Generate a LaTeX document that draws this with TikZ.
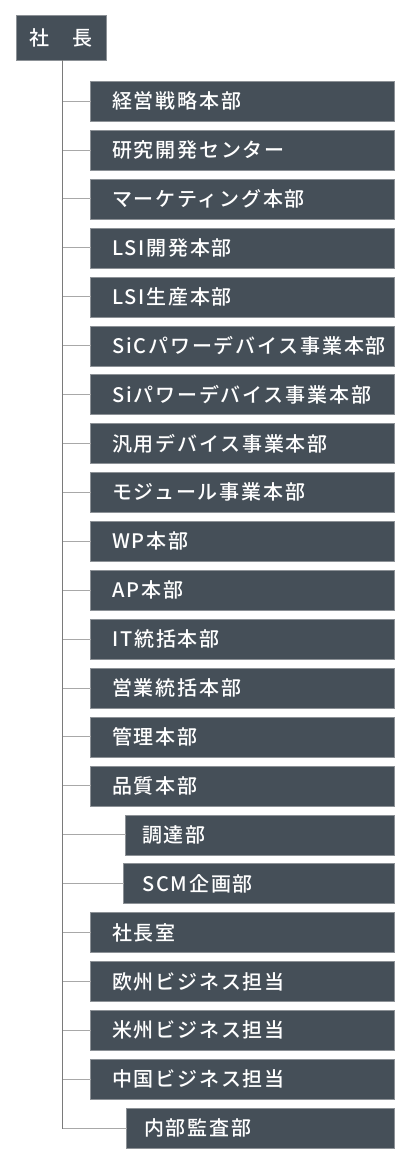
\documentclass[tikz,border=0pt]{standalone}
\usepackage{fontspec}
\usepackage{tikz}
\usetikzlibrary{positioning}
\newfontfamily\jpfont[LetterSpace=9]{Noto Sans CJK JP Medium}
\definecolor{boxfill}{HTML}{454F58}
\definecolor{boxedge}{HTML}{8C9196}
\definecolor{trunkgray}{HTML}{7A7A7A}
\definecolor{branchgray}{HTML}{A8A8A8}

\tikzset{
  head/.style={draw=boxedge,fill=boxfill,text=white,font=\jpfont\fontsize{20}{20}\selectfont,
    minimum width=90pt,minimum height=45pt,inner sep=0pt,anchor=north west},
  unit/.style={draw=boxedge,fill=boxfill,text=white,font=\jpfont\fontsize{20}{20}\selectfont,
    minimum height=40pt,inner ysep=0pt,anchor=north west,align=left},
  branch/.style={draw=branchgray,line width=1pt},
}

\begin{document}
\begin{tikzpicture}[x=1pt,y=-1pt,line cap=rect]
\useasboundingbox (0,0) rectangle (408,1158);
\node[head] (president) at (16,15) {社　長};
\coordinate (trunk) at (62,0);
% units under the president
\foreach \ind/\pad/\t [count=\i] in {0/22/経営戦略本部,0/22/研究開発センター,0/22/マーケティング本部,0/22/LSI開発本部,
  0/22/LSI生産本部,0/22/SiCパワーデバイス事業本部,0/22/Siパワーデバイス事業本部,0/22/汎用デバイス事業本部,
  0/22/モジュール事業本部,0/22/WP本部,0/22/AP本部,0/22/IT統括本部,0/22/営業統括本部,0/22/管理本部,0/22/品質本部,
  35/17/調達部,33/19/SCM企画部,0/22/社長室,0/22/欧州ビジネス担当,0/22/米州ビジネス担当,0/22/中国ビジネス担当,36/18/内部監査部}
{
  \pgfmathsetmacro\tw{304-\ind-2*\pad}
  \node[unit,text width=\tw pt,inner xsep=\pad pt] (u\i) at (90+\ind,81+48.9*\i-48.9) {\t};
  \draw[branch] (u\i.west) -- (u\i.west -| trunk);
}
\draw[trunkgray,line width=1pt] (president.south -| trunk) -- (u22.west -| trunk);
\end{tikzpicture}
\end{document}
